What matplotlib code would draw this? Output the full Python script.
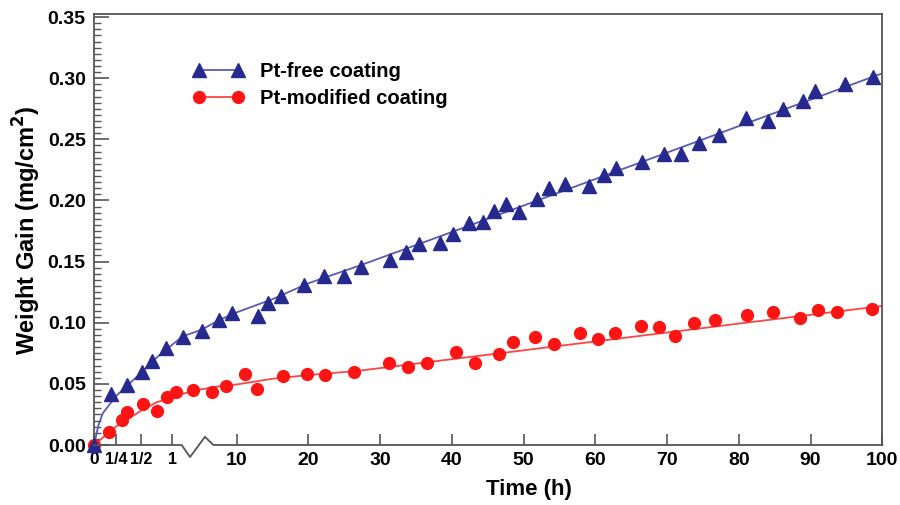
import numpy as np
import matplotlib
matplotlib.use("Agg")
import matplotlib.pyplot as plt
from matplotlib.lines import Line2D
import matplotlib.transforms as mtransforms

plt.rcParams['font.family'] = ['Liberation Sans', 'DejaVu Sans']
plt.rcParams['font.weight'] = 'bold'

# ---------------- data (hours, mg/cm^2) ----------------
ptfree_t = [0, 0.19, 0.357, 0.52, 0.67, 0.9, 2.46, 5.11, 7.57, 9.3, 12.9, 14.3, 16.2,
            19.4, 22.1, 25.0, 27.3, 31.3, 33.6, 35.4, 38.4, 40.1, 42.4, 44.4, 45.8,
            47.6, 49.3, 51.9, 53.6, 55.8, 59.1, 61.2, 62.9, 66.5, 69.6, 71.9, 74.5,
            77.2, 81.0, 84.1, 86.2, 88.9, 90.6, 94.8, 98.7]
ptfree_w = [0.0, 0.042, 0.049, 0.060, 0.069, 0.079, 0.0886, 0.0935, 0.102, 0.108,
            0.1056, 0.1165, 0.122, 0.131, 0.138, 0.138, 0.1455, 0.151, 0.158, 0.1645,
            0.1656, 0.1727, 0.1814, 0.182, 0.1915, 0.197, 0.1904, 0.201, 0.210, 0.2133,
            0.2122, 0.221, 0.2264, 0.2318, 0.2381, 0.2381, 0.2469, 0.2537, 0.2673,
            0.2646, 0.2747, 0.2815, 0.2897, 0.2952, 0.3009]

ptmod_t = [0, 0.17, 0.31, 0.357, 0.54, 0.75, 0.91, 1.5, 3.85, 6.5, 8.5, 11.1, 12.8,
           16.5, 19.8, 22.3, 26.4, 31.2, 33.9, 36.5, 40.5, 43.2, 46.6, 48.5, 51.6,
           54.2, 57.9, 60.4, 62.8, 66.4, 68.8, 71.1, 73.7, 76.7, 81.1, 84.8, 88.5,
           91.1, 93.7, 98.6]
ptmod_w = [0.0, 0.0104, 0.0205, 0.0267, 0.0335, 0.0278, 0.039, 0.0433, 0.045, 0.0434,
           0.048, 0.0580, 0.0458, 0.0565, 0.0581, 0.0573, 0.0595, 0.0674, 0.0636,
           0.0674, 0.0764, 0.0668, 0.0745, 0.084, 0.0881, 0.0824, 0.0914, 0.087,
           0.0919, 0.0976, 0.0963, 0.0892, 0.0996, 0.1023, 0.1064, 0.109, 0.1037,
           0.1105, 0.109, 0.1113]

# fitted curves
fit_t = [0, 0.05, 0.1, 0.25, 0.5, 0.75, 1, 2.5, 5, 7.5, 10, 15, 20, 27, 40, 60, 80, 100]
ptfree_fit = [0.0, 0.016, 0.026, 0.040, 0.059, 0.0715, 0.082, 0.089, 0.094, 0.102,
              0.1085, 0.1193, 0.1323, 0.1465, 0.1742, 0.2175, 0.2608, 0.304]
ptmod_fit = [0.0, 0.003, 0.006, 0.015, 0.028, 0.035, 0.0385, 0.042, 0.0455, 0.048,
             0.0495, 0.0542, 0.0572, 0.0607, 0.0702, 0.0847, 0.0993, 0.1137]

xticks = [0, 0.25, 0.5, 1, 10, 20, 30, 40, 50, 60, 70, 80, 90, 100]
xticklabels = ['0', '1/4', '1/2', '1', '10', '20', '30', '40', '50', '60', '70', '80', '90', '100']
yticks = [0.00, 0.05, 0.10, 0.15, 0.20, 0.25, 0.30, 0.35]

# ---------------- broken time scale ----------------
T_ANCH = np.array([0, 0.25, 0.5, 1, 100])
U_ANCH = np.array([94.0, 116.0, 141.0, 172.2, 882.3])

def fwd(t):
    return np.interp(t, T_ANCH, U_ANCH)

def inv(u):
    return np.interp(u, U_ANCH, T_ANCH)

fig = plt.figure(figsize=(9.0, 5.05), dpi=100)
ax = fig.add_axes([94 / 900, 60 / 505, 788.3 / 900, 431 / 505])
ax.set_xscale('function', functions=(fwd, inv))
ax.set_xlim(0, 100)
ax.set_ylim(0, 0.3525)

blue_m = '#262a8f'
blue_l = '#5a5ab8'
red_m = '#ff1414'
red_l = '#ff4444'

ax.plot(fit_t, ptfree_fit, color=blue_l, lw=1.3, zorder=2)
ax.plot(fit_t, ptmod_fit, color=red_l, lw=1.3, zorder=2)
ax.plot(ptfree_t, ptfree_w, ls='none', marker='^', ms=9.5, color=blue_m, mec=blue_m,
        zorder=4, clip_on=False)
ax.plot(ptmod_t, ptmod_w, ls='none', marker='o', ms=8.5, color=red_m, mec=red_m,
        zorder=3, clip_on=False)

# spines
for s in ['left', 'top', 'right']:
    ax.spines[s].set_color('#555555')
    ax.spines[s].set_linewidth(1.3)
ax.spines['bottom'].set_visible(False)
trans = mtransforms.blended_transform_factory(ax.transData, ax.transAxes)
ax.add_line(Line2D([0, 2.32, 3.48, 5.57, 6.73, 100], [0, 0, -0.028, 0.019, 0, 0],
                   transform=trans, color='#555555', lw=1.3, clip_on=False, zorder=5))

# ticks
ax.set_yticks(yticks)
ax.set_yticklabels([f'{v:.2f}' for v in yticks])
ax.set_yticks(np.arange(0, 0.3501, 0.005), minor=True)
ax.tick_params(axis='y', which='major', direction='in', length=11, width=1.2,
               color='#555555', labelsize=14, pad=6)
ax.tick_params(axis='y', which='minor', direction='in', length=5, width=1.0,
               color='#555555')
ax.set_xticks(xticks)
ax.set_xticklabels(xticklabels)
ax.xaxis.set_minor_locator(matplotlib.ticker.NullLocator())
ax.tick_params(axis='x', which='major', direction='in', length=8, width=1.2,
               color='#555555', labelsize=14, pad=5)
for lab in ax.get_xticklabels()[1:4]:
    lab.set_fontsize(11.5)
ax.get_xticklabels()[0].set_fontsize(12.5)
for lab in ax.get_xticklabels() + ax.get_yticklabels():
    lab.set_fontweight('bold')

ax.set_xlabel('Time (h)', fontsize=16, fontweight='bold')
ax.xaxis.set_label_coords((529 - 94) / 788.3, (445 - 490) / 431)
ax.xaxis.label.set_va('center')
ax.set_ylabel('Weight Gain (mg/cm$^\\mathbf{2}$)', fontsize=17, fontweight='bold')
ax.yaxis.set_label_coords((27 - 94) / 788.3, (445 - 230) / 431)
ax.yaxis.label.set_va('center')

handles = [
    Line2D([], [], color=blue_l, lw=1.3, marker='^', ms=9.5, mfc=blue_m, mec=blue_m),
    Line2D([], [], color=red_l, lw=1.3, marker='o', ms=8.5, mfc=red_m, mec=red_m),
]
leg = ax.legend(handles, ['Pt-free coating', 'Pt-modified coating'], loc='upper left',
                bbox_to_anchor=((193 - 94) / 788.3, (445 - 62) / 431), frameon=False,
                numpoints=2, handlelength=2.55, handletextpad=0.8, labelspacing=0.38,
                borderpad=0, borderaxespad=0, prop={'size': 14.5, 'weight': 'bold'})

fig.savefig('out.png', dpi=100)
